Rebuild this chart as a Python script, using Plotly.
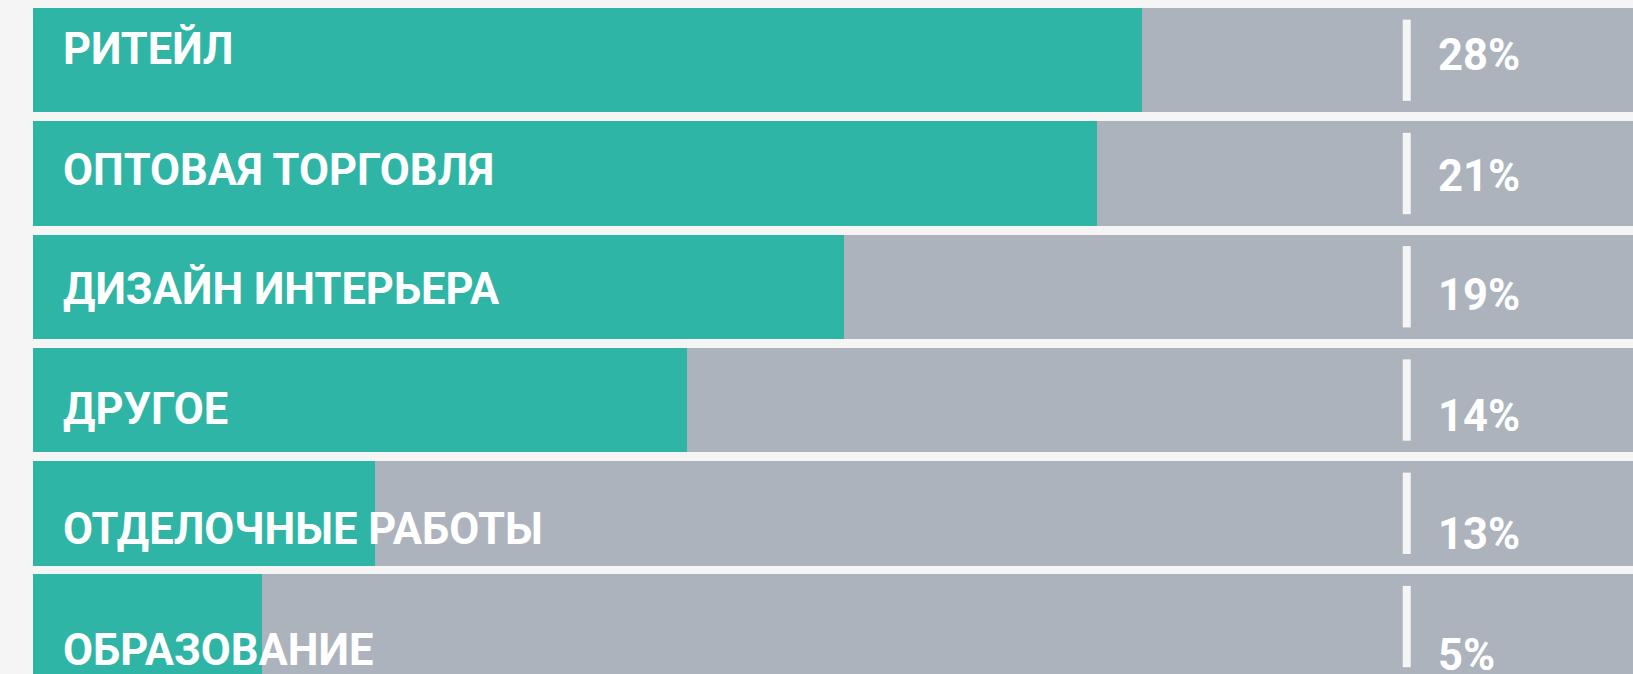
import plotly.graph_objects as go

# ---- data ----
categories = ["РИТЕЙЛ", "ОПТОВАЯ ТОРГОВЛЯ", "ДИЗАЙН ИНТЕРЬЕРА", "ДРУГОЕ",
              "ОТДЕЛОЧНЫЕ РАБОТЫ", "ОБРАЗОВАНИЕ"]
share_labels = ["28%", "21%", "19%", "14%", "13%", "5%"]
fill_values = [69.3, 66.5, 50.7, 40.9, 21.4, 14.3]   # teal fill, % of track
track_values = [100, 100, 100, 100, 100, 100]        # grey full track

# ---- style ----
TEAL = "#2eb5a6"
GREY = "#adb3bd"
BG = "#f5f5f5"
WHITE = "#ffffff"
FONT = "Roboto"
FONT_SIZE = 43.5
BAR_W = 0.9226
label_shift = [10.5, 3, -2.5, -9.8, -16.3, -23.7]     # px, per row (style)
pct_shift = [4.7, -3, -8.8, -16, -21.3, -28.7]
DIV_X = 85.86
PCT_X = 87.66
LABEL_X = 1.75

idx = list(range(len(categories)))

fig = go.Figure()
fig.add_trace(go.Bar(
    y=idx, x=track_values, orientation="h", width=BAR_W,
    marker=dict(color=GREY, line=dict(width=0)), hoverinfo="skip",
    showlegend=False))
fig.add_trace(go.Bar(
    y=idx, x=fill_values, orientation="h", width=BAR_W,
    marker=dict(color=TEAL, line=dict(width=0)),
    customdata=categories, hovertemplate="%{customdata}<extra></extra>",
    showlegend=False))

shapes = []
annotations = []
for i in idx:
    shapes.append(dict(type="line", xref="x", yref="y",
                       x0=DIV_X, x1=DIV_X, y0=i - 0.359, y1=i + 0.359,
                       line=dict(color=BG, width=8), layer="above"))
    annotations.append(dict(x=LABEL_X, y=i, xref="x", yref="y",
                            text=categories[i], showarrow=False,
                            xanchor="left", yanchor="middle",
                            yshift=label_shift[i],
                            font=dict(family=FONT, size=FONT_SIZE, color=WHITE,
                                      weight=700)))
    annotations.append(dict(x=PCT_X, y=i, xref="x", yref="y",
                            text=share_labels[i], showarrow=False,
                            xanchor="left", yanchor="middle",
                            yshift=pct_shift[i],
                            font=dict(family=FONT, size=FONT_SIZE, color=WHITE,
                                      weight=700)))

fig.update_layout(
    width=1633, height=674,
    barmode="overlay",
    paper_bgcolor=BG, plot_bgcolor=BG,
    margin=dict(l=33, r=0, t=8, b=0, pad=0),
    xaxis=dict(range=[0, 100], visible=False, fixedrange=True),
    yaxis=dict(range=[5.419, -0.4613], visible=False, fixedrange=True),
    shapes=shapes, annotations=annotations,
    bargap=0,
)

fig.write_html(
    "out.html",
    config={"displayModeBar": False},
    post_script="document.body.style.margin='0';"
                "document.body.style.background='#f5f5f5';"
                "document.body.style.overflow='hidden';",
)
